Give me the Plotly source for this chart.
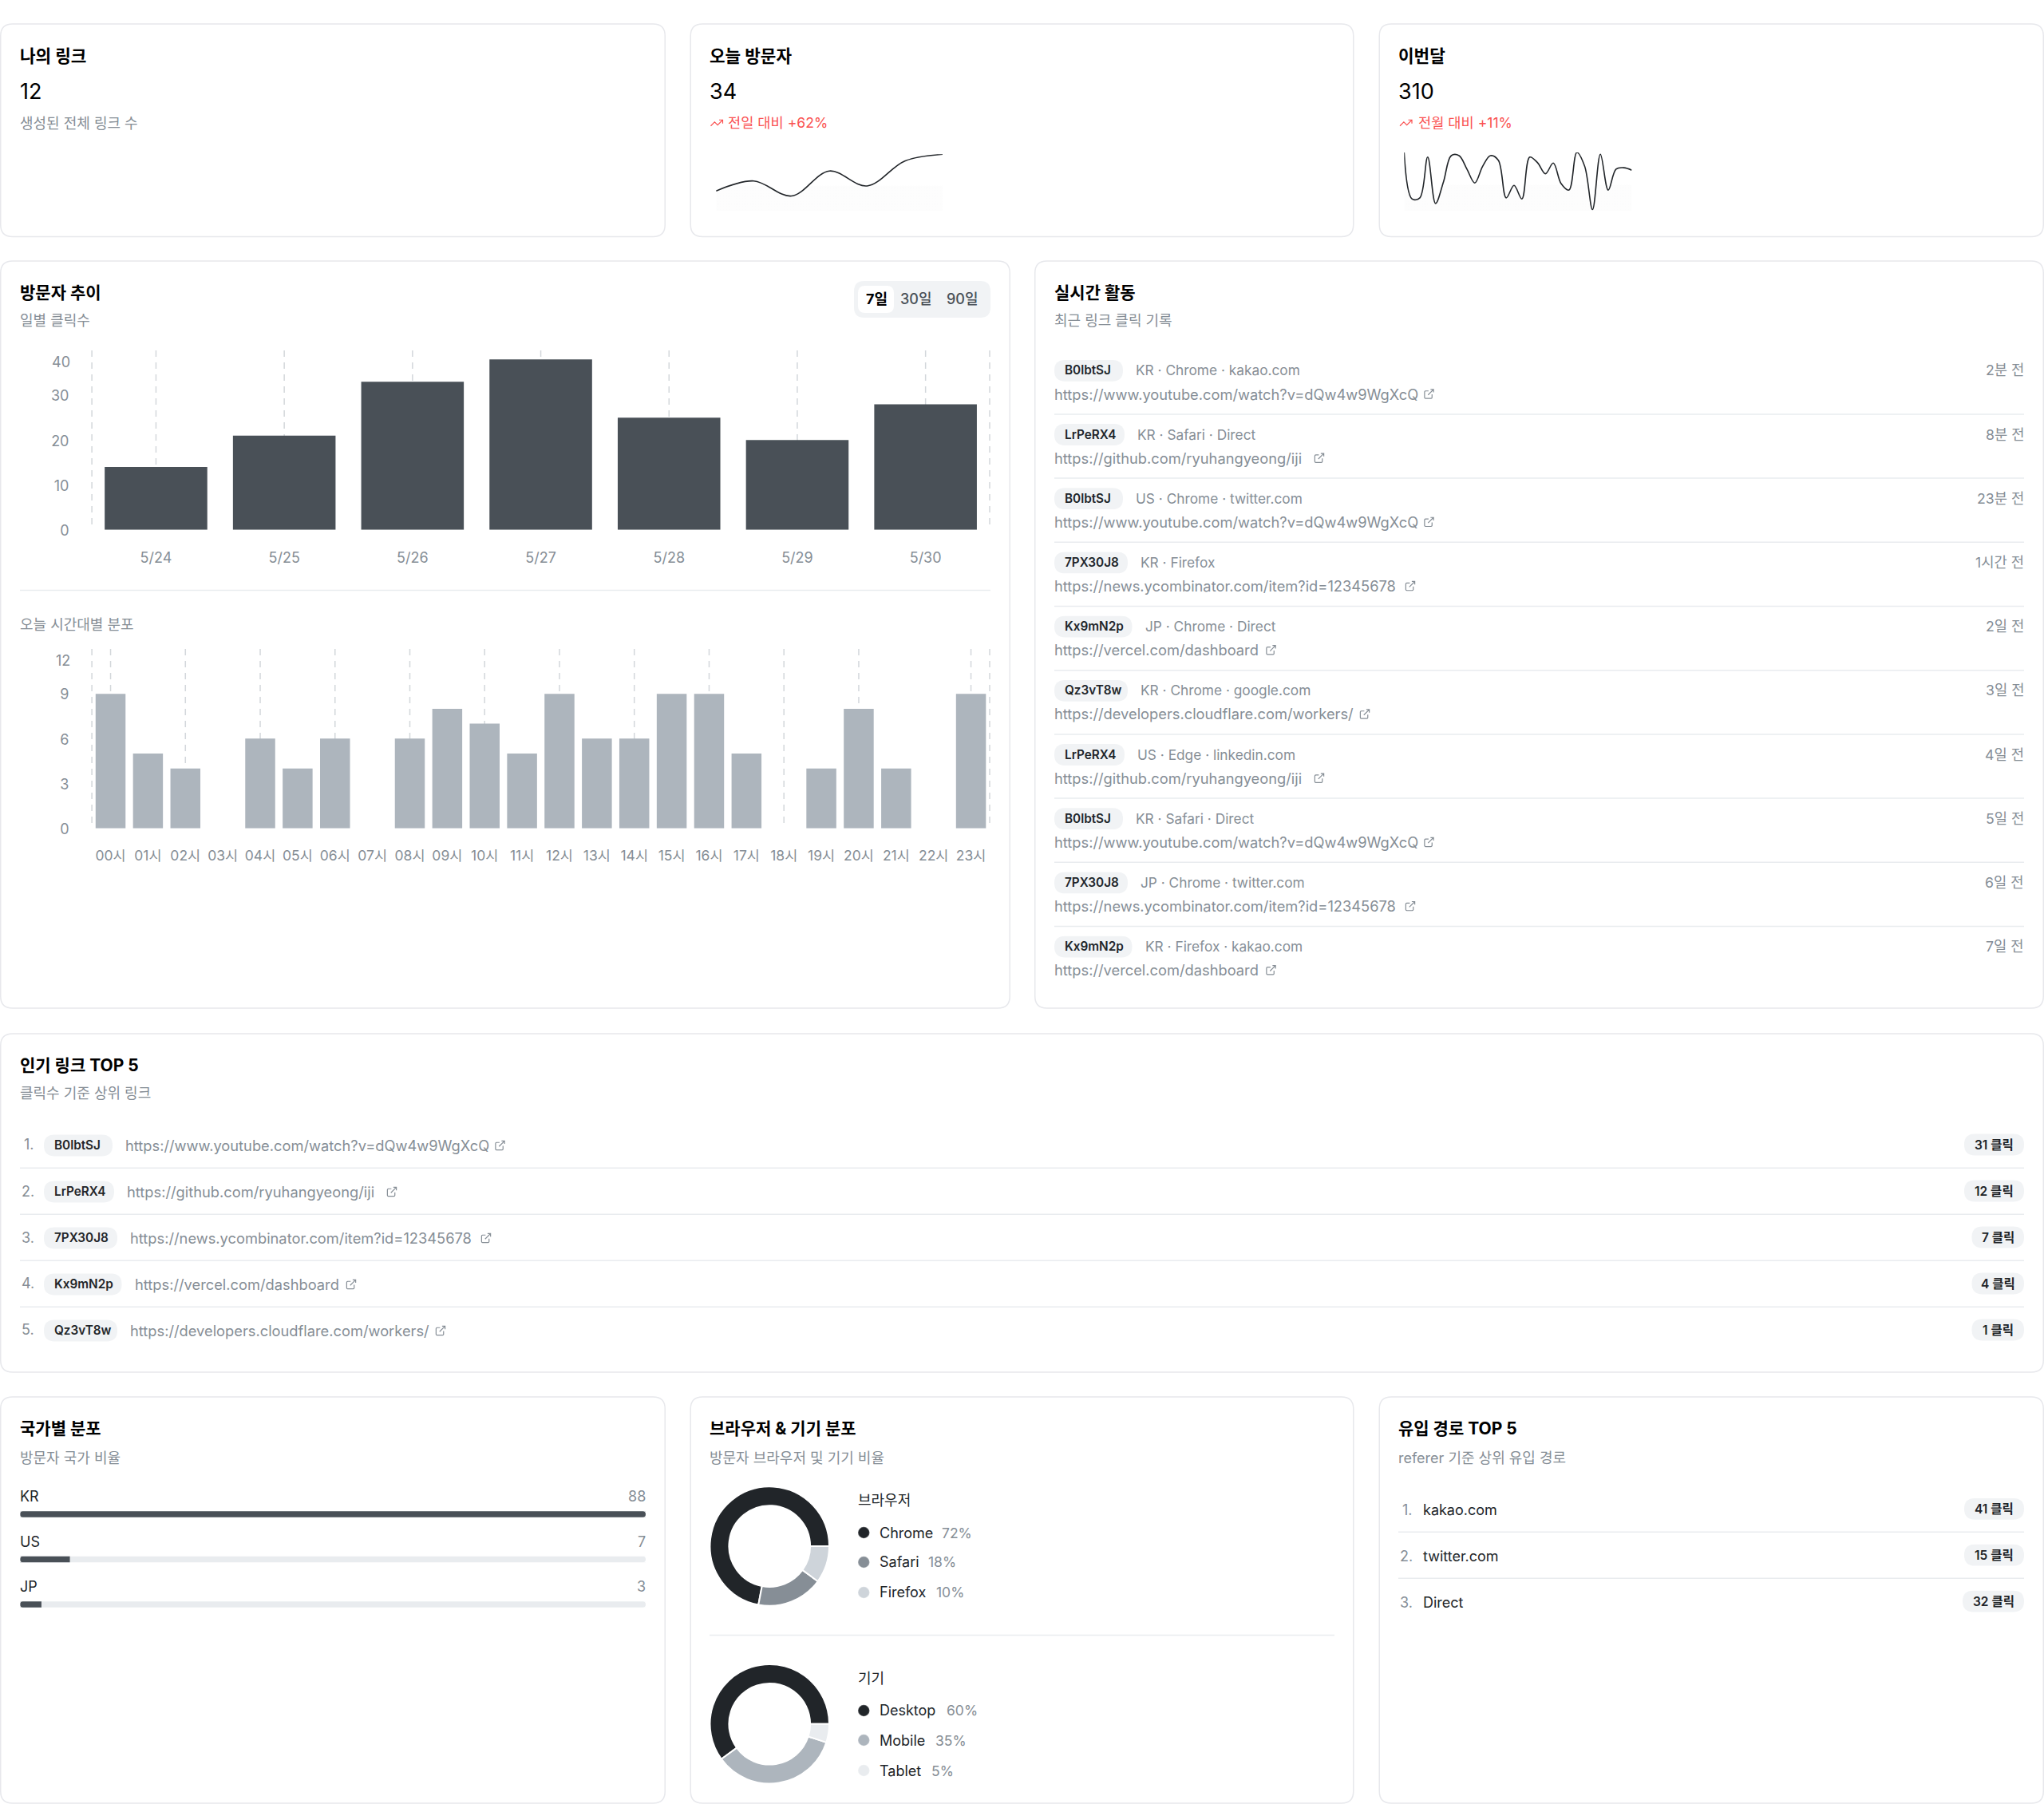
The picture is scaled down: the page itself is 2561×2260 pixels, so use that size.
import plotly.graph_objects as go

W, H = 2561, 2260

# ---- chart data ----
days = ["5/24", "5/25", "5/26", "5/27", "5/28", "5/29", "5/30"]
daily_clicks = [14, 21, 33, 38, 25, 20, 28]
daily_ticks = [0, 10, 20, 30, 40]

hours = ["00시", "01시", "02시", "03시", "04시", "05시", "06시", "07시", "08시", "09시", "10시", "11시",
         "12시", "13시", "14시", "15시", "16시", "17시", "18시", "19시", "20시", "21시", "22시", "23시"]
hourly_clicks = [9, 5, 4, 0, 6, 4, 6, 0, 6, 8, 7, 5, 9, 6, 6, 9, 9, 5, 0, 4, 8, 4, 0, 9]
hourly_ticks = [0, 3, 6, 9, 12]
hourly_grid = ["00시", "02시", "04시", "06시", "08시", "10시", "12시", "14시", "16시", "18시", "20시", "23시"]

today_trend = [12, 18, 9, 24, 15, 30, 34]
month_trend = [16.5, 3.4, 3.7, 15.2, 2.1, 8.1, 15.6, 15.6, 11.8, 7.9, 12.6, 15.6, 14.3, 3.7, 7.2,
               3.4, 15.2, 13.6, 10.5, 13.5, 7.7, 5.9, 16.5, 12.6, 0.4, 16.0, 5.9, 11.8, 12.2, 11.5]

countries = ["KR", "US", "JP"]
country_counts = [88, 7, 3]

browsers = ["Chrome", "Safari", "Firefox"]
browser_share = [72, 18, 10]
devices = ["Desktop", "Mobile", "Tablet"]
device_share = [60, 35, 5]

activity_codes = ["B0lbtSJ", "LrPeRX4", "B0lbtSJ", "7PX30J8", "Kx9mN2p",
                  "Qz3vT8w", "LrPeRX4", "B0lbtSJ", "7PX30J8", "Kx9mN2p"]
activity_meta = ["KR · Chrome · kakao.com", "KR · Safari · Direct", "US · Chrome · twitter.com", "KR · Firefox",
                 "JP · Chrome · Direct", "KR · Chrome · google.com", "US · Edge · linkedin.com",
                 "KR · Safari · Direct", "JP · Chrome · twitter.com", "KR · Firefox · kakao.com"]
activity_ago = ["2분 전", "8분 전", "23분 전", "1시간 전", "2일 전", "3일 전", "4일 전", "5일 전", "6일 전", "7일 전"]

link_urls = {
    "B0lbtSJ": "https://www.youtube.com/watch?v=dQw4w9WgXcQ",
    "LrPeRX4": "https://github.com/ryuhangyeong/iji",
    "7PX30J8": "https://news.ycombinator.com/item?id=12345678",
    "Kx9mN2p": "https://vercel.com/dashboard",
    "Qz3vT8w": "https://developers.cloudflare.com/workers/",
}
top_codes = ["B0lbtSJ", "LrPeRX4", "7PX30J8", "Kx9mN2p", "Qz3vT8w"]
top_clicks = [31, 12, 7, 4, 1]

referrers = ["kakao.com", "twitter.com", "Direct"]
referrer_clicks = [41, 15, 32]

# ---- page layout helpers ----
FONT = "Inter, 'Noto Sans CJK KR', sans-serif"
INK, DARK, SLATE, MUTED, RULE = "#000000", "#212529", "#495057", "#868e96", "#e9ecef"
RED = "#fa5252"
PILL_BG = "#f1f3f5"

# pill width and url-to-icon offset for each short code
PILL_W = {"B0lbtSJ": 86, "LrPeRX4": 88, "7PX30J8": 92, "Kx9mN2p": 97.5, "Qz3vT8w": 92}
ICON_OFFSET = {"B0lbtSJ": 469.5, "LrPeRX4": 332, "7PX30J8": 446, "Kx9mN2p": 271.5, "Qz3vT8w": 389}

shapes, annotations = [], []


def px(x):
    return round(x / W, 6)


def py(y):
    return round(1 - y / H, 6)


def text(x, y, s, size=18, color=MUTED, weight=400, anchor="left"):
    annotations.append(dict(xref="paper", yref="paper", x=px(x), y=py(y), text=s, showarrow=False,
                            xanchor=anchor, yanchor="middle", borderpad=0, borderwidth=0,
                            font=dict(family=FONT, size=size, color=color, weight=weight)))


def rrect_path(x0, y0, x1, y1, r):
    return (f"M{px(x0 + r)},{py(y0)} L{px(x1 - r)},{py(y0)} Q{px(x1)},{py(y0)} {px(x1)},{py(y0 + r)} "
            f"L{px(x1)},{py(y1 - r)} Q{px(x1)},{py(y1)} {px(x1 - r)},{py(y1)} "
            f"L{px(x0 + r)},{py(y1)} Q{px(x0)},{py(y1)} {px(x0)},{py(y1 - r)} "
            f"L{px(x0)},{py(y0 + r)} Q{px(x0)},{py(y0)} {px(x0 + r)},{py(y0)} Z")


def rrect(x0, y0, x1, y1, r, fill="white", line=None, lw=0, layer="below"):
    shapes.append(dict(type="path", xref="paper", yref="paper", path=rrect_path(x0, y0, x1, y1, r),
                       fillcolor=fill, line=dict(color=line or "rgba(0,0,0,0)", width=lw), layer=layer))


def card(x0, y0, x1, y1):
    rrect(x0 + 0.75, y0, x1 - 0.75, y1, 15, fill="white", line="#e7e8ec", lw=1.5)


def hline(x0, x1, y):
    shapes.append(dict(type="line", xref="paper", yref="paper", x0=px(x0), x1=px(x1), y0=py(y), y1=py(y),
                       line=dict(color=RULE, width=1.5), layer="below"))


def icon(x, y, size, strokes, color, lw=1.2):
    # strokes are polylines on a 24-unit icon grid, centred at (x, y)
    k = size / 24
    path = ""
    for pts in strokes:
        path += "M" + " L".join(f"{px(x + (a - 12) * k)},{py(y + (b - 12) * k)}" for a, b in pts) + " "
    shapes.append(dict(type="path", xref="paper", yref="paper", path=path.strip(),
                       line=dict(color=color, width=lw), fillcolor="rgba(0,0,0,0)", layer="above"))


EXTERNAL = [[(18, 13), (18, 19), (17.4, 20.4), (16, 21), (5, 21), (3.6, 20.4), (3, 19), (3, 8), (3.6, 6.6), (5, 6), (11, 6)],
            [(15, 3), (21, 3), (21, 9)], [(10, 14), (21, 3)]]
TREND = [[(22, 7), (13.5, 15.5), (8.5, 10.5), (2, 17)], [(16, 7), (22, 7), (22, 13)]]


def pill_code(x, y, code):
    w = PILL_W[code]
    rrect(x, y - 13.4, x + w, y + 13.4, 13.4, fill=PILL_BG)
    text(x + 13, y - 0.5, code, size=15.3, color=DARK, weight=600)
    return x + w


def click_badge(right, y, n, width):
    rrect(right - width, y - 13.4, right, y + 13.4, 13.4, fill=PILL_BG)
    text(right - width / 2, y + 0.5, f"{n} 클릭", size=15.5, color=DARK, weight=600, anchor="center")


def header(x, y, title, sub=None, gap=35):
    text(x, y, title, size=21, color=INK, weight=700)
    if sub:
        text(x, y + gap, sub, size=18)


# ---- cards ----
card(0, 30, 834, 296.5)
card(864.5, 30, 1696.5, 296.5)
card(1727.5, 30, 2561, 296.5)
card(0, 327, 1266, 1263)
card(1296, 327, 2561, 1263)
card(0, 1295, 2561, 1719)
card(0, 1750, 834, 2259)
card(864.5, 1750, 1696.5, 2259)
card(1727.5, 1750, 2561, 2259)

# ---- stat cards ----
text(25, 70, "나의 링크", size=21.3, color=INK, weight=700)
text(25, 114.5, "12", size=27, color=INK)
text(25, 154, "생성된 전체 링크 수", size=18)

text(889, 70, "오늘 방문자", size=21.3, color=INK, weight=700)
text(889, 114.5, "34", size=27, color=INK)
icon(898, 154, 18, TREND, RED, 1.2)
text(912, 153.5, "전일 대비 +62%", size=17.6, color=RED)

text(1752, 70, "이번달", size=21.3, color=INK, weight=700)
text(1752, 114.5, "310", size=27, color=INK)
icon(1761.5, 154, 18, TREND, RED, 1.2)
text(1777, 153.5, "전월 대비 +11%", size=17.6, color=RED)

# ---- visitors card ----
header(25, 367, "방문자 추이", "일별 클릭수")
rrect(1070, 352, 1241, 398, 13, fill=PILL_BG)
rrect(1075, 358, 1120, 392, 9, fill="white")
text(1098, 374, "7일", size=18, color=INK, weight=700, anchor="center")
text(1148, 374, "30일", size=18, color=SLATE, weight=500, anchor="center")
text(1206, 374, "90일", size=18, color=SLATE, weight=500, anchor="center")
hline(25, 1241, 739.5)
text(25, 782.5, "오늘 시간대별 분포", size=18)


def dashed(xref, x, yref):
    shapes.append(dict(type="line", xref=xref, yref=yref, x0=x, x1=x, y0=1, y1=0, layer="below",
                       line=dict(color="#d3d7db", width=1.5, dash="8px,7px")))


for d in days:
    dashed("x", d, "y domain")
for xx in (0, 1):
    dashed("x domain", xx, "y domain")
for h in hourly_grid:
    dashed("x2", h, "y2 domain")
for xx in (0, 1):
    dashed("x2 domain", xx, "y2 domain")

# the top tick label sits a little below its tick so it stays inside the frame
annotations.append(dict(xref="paper", yref="y", x=px(88.5), y=daily_ticks[-1], yshift=-14.5, text=str(daily_ticks[-1]),
                        showarrow=False, xanchor="right", yanchor="middle", borderpad=0,
                        font=dict(family=FONT, size=18, color=MUTED)))
annotations.append(dict(xref="paper", yref="y2", x=px(88.5), y=hourly_ticks[-1], yshift=-14.5, text=str(hourly_ticks[-1]),
                        showarrow=False, xanchor="right", yanchor="middle", borderpad=0,
                        font=dict(family=FONT, size=18, color=MUTED)))

# ---- activity card ----
header(1321, 367, "실시간 활동", "최근 링크 클릭 기록")
for i, code in enumerate(activity_codes):
    y = 464.3 + 80.2 * i
    end = pill_code(1321, y, code)
    text(end + 16, y - 0.5, activity_meta[i], size=17.3)
    text(2535.5, y - 0.5, activity_ago[i], size=17.7, anchor="right")
    text(1321, y + 29.2, link_urls[code], size=18.3)
    icon(1321 + ICON_OFFSET[code], y + 29.2, 15, EXTERNAL, MUTED)
    if i < len(activity_codes) - 1:
        hline(1321, 2536, y + 54.6)

# ---- popular links card ----
header(25, 1334.3, "인기 링크 TOP 5", "클릭수 기준 상위 링크")
for i, code in enumerate(top_codes):
    y = 1435 + 58 * i
    text(43, y - 1, f"{i + 1}.", size=18, anchor="right")
    end = pill_code(55, y, code)
    text(end + 16, y, link_urls[code], size=18.3)
    icon(end + 16 + ICON_OFFSET[code], y, 15, EXTERNAL, MUTED)
    click_badge(2536, y - 1, top_clicks[i], 52 + 9.5 * len(str(top_clicks[i])) + 4)
    if i < len(top_codes) - 1:
        hline(25, 2536, y + 28.3)

# ---- country card ----
header(25, 1790, "국가별 분포", "방문자 국가 비율", gap=36)
for i, c in enumerate(countries):
    y = 1875 + 56.5 * i
    text(25, y, c, size=18, color=DARK)
    text(809, y, str(country_counts[i]), size=18, anchor="right")
    bar_y = 1897 + 56.5 * i
    r = 3.75
    for cx, cy, sx, sy in ((25, bar_y - r, 1, 1), (809, bar_y - r, -1, 1), (25, bar_y + r, 1, -1), (809, bar_y + r, -1, -1)):
        shapes.append(dict(type="path", xref="paper", yref="paper", layer="above", fillcolor="white",
                           line=dict(width=0),
                           path=f"M{px(cx)},{py(cy)} L{px(cx + sx * r)},{py(cy)} Q{px(cx)},{py(cy)} {px(cx)},{py(cy + sy * r)} Z"))

# ---- browser & device card ----
header(889, 1790, "브라우저 & 기기 분포", "방문자 브라우저 및 기기 비율", gap=36)
hline(889, 1672, 2048.5)


def legend_block(title, y_title, rows, names, shares, colors, pct_x):
    text(1075, y_title, title, size=18, color=DARK)
    for j, (yy, n, v, col) in enumerate(zip(rows, names, shares, colors)):
        shapes.append(dict(type="circle", xref="paper", yref="paper", x0=px(1075), x1=px(1089.5),
                           y0=py(yy - 7.2), y1=py(yy + 7.2), fillcolor=col,
                           line=dict(width=1.5, color="rgba(255,255,255,0.25)"), layer="below"))
        text(1102, yy, n, size=18, color=DARK)
        text(pct_x[j], yy, f"{v}%", size=17.5)


BROWSER_COLORS = ["#212529", "#868e96", "#ced4da"]
DEVICE_COLORS = ["#212529", "#adb5bd", "#e9ecef"]
legend_block("브라우저", 1879, [1920, 1957, 1995], browsers, browser_share, BROWSER_COLORS, [1180, 1163, 1173])
legend_block("기기", 2102.5, [2143, 2180, 2218], devices, device_share, DEVICE_COLORS, [1186, 1172, 1167])

# ---- referrer card ----
header(1752, 1790, "유입 경로 TOP 5", "referer 기준 상위 유입 경로", gap=36)
for i, name in enumerate(referrers):
    y = 1891.3 + 57.9 * i
    text(1770, y, f"{i + 1}.", size=18, anchor="right")
    text(1783, y, name, size=18, color=DARK)
    click_badge(2536, y - 1, referrer_clicks[i], 75 if i < 2 else 77)
    if i < len(referrers) - 1:
        hline(1752, 2536, y + 28)

# ---- traces ----
fig = go.Figure()
fig.add_trace(go.Bar(x=days, y=daily_clicks, xaxis="x", yaxis="y", marker_color=SLATE, marker_line_width=0))
fig.add_trace(go.Bar(x=hours, y=hourly_clicks, xaxis="x2", yaxis="y2", marker_color="#adb5bd", marker_line_width=0))


def sparkline(values, xa, ya, top_value):
    n = len(values)
    fig.add_trace(go.Scatter(x=list(range(n)), y=values, xaxis=xa, yaxis=ya, mode="lines",
                             line=dict(color=DARK, width=1.6, shape="spline", smoothing=1.0),
                             fill="tozeroy", fillcolor="rgba(33,37,41,0.012)", cliponaxis=False,
                             fillgradient=dict(type="vertical", start=top_value, stop=0,
                                               colorscale=[[0, "rgba(33,37,41,0)"], [0.55, "rgba(33,37,41,0)"],
                                                           [0.56, "rgba(33,37,41,0.01)"], [1, "rgba(33,37,41,0.01)"]])))


sparkline(today_trend, "x3", "y3", max(today_trend))
sparkline(month_trend, "x4", "y4", max(month_trend))

fig.add_trace(go.Bar(y=countries, x=[max(country_counts)] * 3, orientation="h", xaxis="x5", yaxis="y5",
                     marker_color=RULE, marker_line_width=0, width=7.5 / 56.5))
fig.add_trace(go.Bar(y=countries, x=country_counts, orientation="h", xaxis="x5", yaxis="y5",
                     marker_color=SLATE, marker_line_width=0, width=7.5 / 56.5))


def donut(values, names, colors, x0, y0, size):
    # with a counterclockwise pie, the first slice ends at "rotation"; this makes it start at 3 o'clock
    fig.add_trace(go.Pie(values=values, labels=names, hole=0.68, sort=False, direction="counterclockwise",
                         rotation=90 - 3.6 * values[0] * 100 / sum(values), textinfo="none", showlegend=False,
                         marker=dict(colors=colors, line=dict(color="white", width=2)),
                         domain=dict(x=[px(x0), px(x0 + size)], y=[py(y0 + size), py(y0)])))


donut(browser_share, browsers, BROWSER_COLORS, 889.5, 1862.3, 149.5)
donut(device_share, devices, DEVICE_COLORS, 889.5, 2085, 149.5)

# ---- axes, each one pinned to its place on the page ----
x_dom = [px(115.1), px(1240)]
tick_font = dict(family=FONT, size=18, color=MUTED)
hidden = dict(visible=False, fixedrange=True, automargin=False)
plain = dict(showline=False, showgrid=False, zeroline=False, automargin=False)

layout_axes = dict(
    xaxis=dict(domain=x_dom, anchor="y", type="category", categoryorder="array", categoryarray=days,
               range=[-0.5, len(days) - 0.5], ticks="outside", ticklen=18.5, tickcolor="rgba(0,0,0,0)",
               tickfont=tick_font, **plain),
    yaxis=dict(domain=[py(663.7), py(439)], anchor="x", range=[0, daily_ticks[-1]], tickvals=daily_ticks[:-1],
               ticks="outside", ticklen=24, tickcolor="rgba(0,0,0,0)", tickfont=tick_font,
               ticklabelshift=1, **plain),
    xaxis2=dict(domain=x_dom, anchor="y2", type="category", categoryorder="array", categoryarray=hours,
                range=[-0.5, len(hours) - 0.5], ticks="outside", ticklen=18.5, tickcolor="rgba(0,0,0,0)",
                tickangle=0, tickfont=dict(family=FONT, size=17.5, color=MUTED), dtick=1, **plain),
    yaxis2=dict(domain=[py(1037.7), py(813)], anchor="x2", range=[0, hourly_ticks[-1]], tickvals=hourly_ticks[:-1],
                ticks="outside", ticklen=24, tickcolor="rgba(0,0,0,0)", tickfont=tick_font,
                ticklabelshift=1, **plain),
    xaxis3=dict(domain=[px(897.2), px(1181)], anchor="y3", range=[0, len(today_trend) - 1], **hidden),
    yaxis3=dict(domain=[py(264.3), py(193.3)], anchor="x3", range=[0, max(today_trend)], **hidden),
    xaxis4=dict(domain=[px(1759.3), px(2044.5)], anchor="y4", range=[0, len(month_trend) - 1], **hidden),
    yaxis4=dict(domain=[py(264.3), py(191)], anchor="x4", range=[0, max(month_trend)], **hidden),
    xaxis5=dict(domain=[px(25.2), px(809)], anchor="y5", range=[0, max(country_counts)], **hidden),
    yaxis5=dict(domain=[py(2010 + 28.25), py(1897 - 28.25)], anchor="x5", type="category",
                categoryorder="array", categoryarray=countries[::-1], range=[-0.5, 2.5], **hidden),
)

fig.update_layout(template="none", width=W, height=H, autosize=False, margin=dict(l=0, r=0, t=0, b=0, pad=0),
                  paper_bgcolor="white", plot_bgcolor="rgba(0,0,0,0)", showlegend=False,
                  barmode="overlay", bargap=0.2, font=dict(family=FONT), hovermode=False,
                  shapes=shapes, annotations=annotations, **layout_axes)

fig.write_html("out.html")
